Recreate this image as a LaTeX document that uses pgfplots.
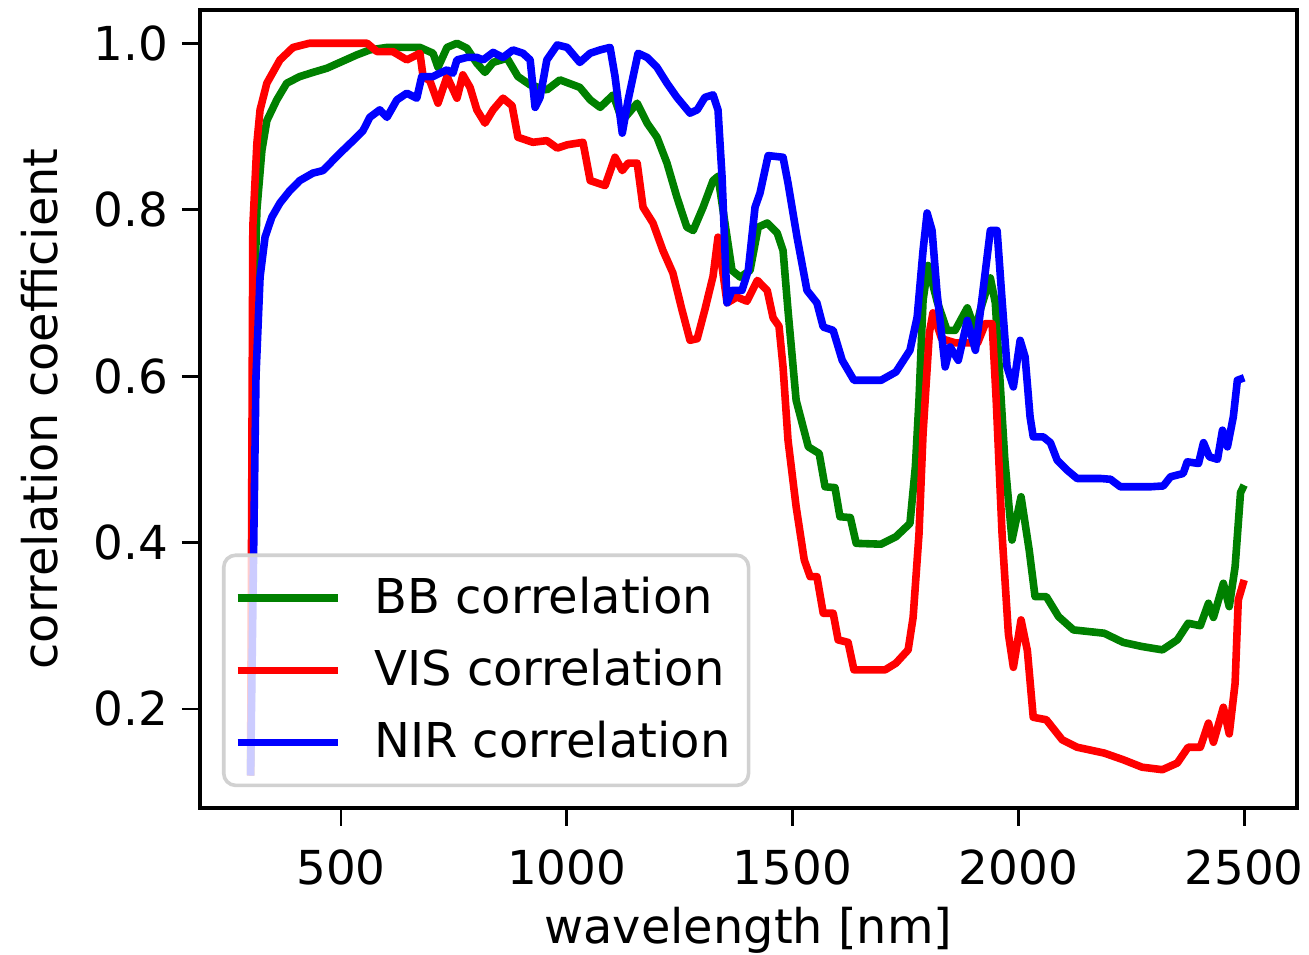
\documentclass[border=0pt]{standalone}
\usepackage{fontspec}
\setmainfont{DejaVu Sans}
\usepackage{pgfplots}
\pgfplotsset{compat=1.18}
\usetikzlibrary{calc}

\definecolor{mplgreen}{rgb}{0,0.5,0}

\begin{document}
\begin{tikzpicture}
\begin{axis}[
  scale only axis,
  width=274.25pt, height=199.5pt,
  xmin=188, xmax=2617, ymin=0.081, ymax=1.04,
  xtick={500,1000,1500,2000,2500},
  ytick={0.2,0.4,0.6,0.8,1.0},
  axis line style={line width=0.9pt},
  tick align=outside, tick pos=left,
  major tick length=4.5pt,
  every tick/.style={black, line width=0.7pt},
  /pgf/number format/assume math mode=true,
  xticklabel style={/pgf/number format/1000 sep={}, yshift=-2.5pt, inner xsep=0pt},
  yticklabel style={/pgf/number format/.cd, fixed, fixed zerofill, precision=1},
  every tick label/.append style={font=\fontsize{11.7}{14}\selectfont},
  label style={font=\fontsize{11.95}{14.3}\selectfont},
  xlabel={wavelength [nm]},
  ylabel={correlation coefficient},
  xlabel style={at={($(rel axis cs:0.5,0)+(0,-33.9pt)$)}, anchor=base, inner sep=0pt},
  ylabel style={at={($(rel axis cs:0,0.5)+(-35.5pt,0)$)}, anchor=base, inner sep=0pt},
  legend cell align=left,
  legend image code/.code={\draw[#1] (0pt,0pt) -- (25pt,0pt);},
  legend style={at={(0.02,0.026)}, anchor=south west,
    font=\fontsize{12}{14.4}\selectfont,
    draw=black!18, line width=0.9pt, rounded corners=3pt,
    fill=white, fill opacity=0.8, draw opacity=1, text opacity=1,
    inner xsep=2.5pt, inner ysep=2.45pt,
    nodes={inner xsep=2pt, inner ysep=3pt},
    row sep=1.4pt,
    /tikz/every odd column/.append style={column sep=6.25pt},
    /tikz/every even column/.append style={inner xsep=3pt}},
  every axis plot/.append style={line width=1.9pt, line join=round},
]
\addplot[mplgreen] coordinates {
(300,0.12) (309,0.70) (314,0.80) (325,0.871) (336,0.907) (358,0.932) (380,0.952)
(409,0.96) (438,0.965) (469,0.97) (498,0.977) (535,0.986) (564,0.992) (602,0.995)
(675,0.995) (704,0.988) (715,0.971) (735,0.995) (757,1.0) (779,0.994) (801,0.976)
(819,0.965) (837,0.977) (868,0.982) (892,0.96) (919,0.95) (956,0.944) (985,0.956)
(1029,0.947) (1052,0.932) (1074,0.923) (1103,0.938) (1123,0.907) (1156,0.928)
(1178,0.904) (1200,0.887) (1222,0.856) (1244,0.815) (1266,0.779) (1280,0.775)
(1302,0.803) (1324,0.835) (1335,0.84) (1366,0.727) (1384,0.719) (1406,0.727)
(1424,0.779) (1444,0.784) (1466,0.772) (1479,0.751) (1490,0.679) (1508,0.571)
(1535,0.515) (1559,0.507) (1572,0.467) (1594,0.466) (1605,0.431) (1628,0.43)
(1641,0.399) (1696,0.398) (1729,0.407) (1760,0.423) (1772,0.491) (1780,0.571)
(1789,0.691) (1800,0.733) (1820,0.69) (1842,0.655) (1860,0.655) (1887,0.682)
(1905,0.655) (1916,0.68) (1938,0.718) (1949,0.688) (1970,0.5) (1986,0.403)
(2006,0.455) (2024,0.391) (2037,0.335) (2062,0.335) (2089,0.311) (2122,0.295)
(2190,0.291) (2232,0.28) (2274,0.275) (2319,0.271) (2352,0.283) (2376,0.303)
(2403,0.3) (2421,0.327) (2432,0.31) (2454,0.351) (2467,0.323) (2480,0.371)
(2492,0.46) (2500,0.469)
};
\addlegendentry{BB correlation}
\addplot[red] coordinates {
(300,0.12) (305,0.78) (314,0.88) (321,0.92) (336,0.952) (365,0.98) (394,0.995)
(430,1.0) (558,1.0) (580,0.99) (615,0.99) (646,0.98) (675,0.988) (682,0.96)
(697,0.955) (715,0.928) (735,0.96) (757,0.934) (770,0.962) (786,0.947) (801,0.92)
(819,0.904) (837,0.92) (859,0.934) (879,0.925) (892,0.887) (925,0.881) (956,0.883)
(979,0.874) (1001,0.878) (1036,0.881) (1052,0.835) (1085,0.829) (1107,0.863)
(1123,0.847) (1136,0.856) (1156,0.856) (1169,0.803) (1191,0.784) (1213,0.751)
(1235,0.724) (1255,0.68) (1273,0.643) (1289,0.645) (1306,0.68) (1324,0.72)
(1335,0.767) (1355,0.688) (1377,0.695) (1399,0.69) (1422,0.715) (1444,0.703)
(1457,0.67) (1470,0.66) (1479,0.611) (1490,0.523) (1508,0.443) (1526,0.379)
(1539,0.359) (1554,0.359) (1568,0.315) (1590,0.315) (1601,0.283) (1623,0.28)
(1636,0.247) (1705,0.247) (1729,0.255) (1756,0.271) (1767,0.31) (1780,0.41)
(1789,0.531) (1803,0.652) (1811,0.676) (1830,0.645) (1860,0.64) (1890,0.64)
(1910,0.64) (1927,0.663) (1942,0.663) (1951,0.571) (1964,0.41) (1978,0.29)
(1989,0.25) (2006,0.307) (2020,0.27) (2033,0.19) (2062,0.187) (2097,0.163)
(2130,0.154) (2190,0.147) (2232,0.139) (2274,0.13) (2319,0.127) (2352,0.135)
(2376,0.154) (2403,0.154) (2421,0.183) (2432,0.16) (2454,0.202) (2467,0.17)
(2480,0.231) (2487,0.331) (2500,0.355)
};
\addlegendentry{VIS correlation}
\addplot[blue] coordinates {
(300,0.12) (312,0.60) (321,0.719) (332,0.767) (347,0.791) (365,0.808) (387,0.823)
(409,0.835) (438,0.844) (460,0.847) (482,0.859) (504,0.871) (527,0.883) (549,0.895)
(564,0.911) (586,0.92) (602,0.911) (624,0.932) (646,0.94) (668,0.934) (679,0.96)
(704,0.96) (719,0.964) (735,0.968) (748,0.964) (757,0.98) (779,0.983) (801,0.983)
(815,0.98) (837,0.989) (859,0.983) (881,0.992) (903,0.988) (919,0.98) (930,0.923)
(941,0.935) (956,0.98) (979,0.998) (1001,0.995) (1029,0.977) (1052,0.988)
(1074,0.992) (1096,0.995) (1107,0.96) (1123,0.892) (1136,0.932) (1147,0.96)
(1158,0.988) (1178,0.983) (1200,0.971) (1222,0.952) (1244,0.935) (1273,0.916)
(1289,0.92) (1306,0.935) (1324,0.938) (1335,0.92) (1344,0.839) (1355,0.688)
(1366,0.703) (1388,0.703) (1402,0.727) (1417,0.803) (1428,0.82) (1446,0.865)
(1479,0.863) (1490,0.832) (1510,0.767) (1532,0.703) (1554,0.688) (1568,0.659)
(1590,0.655) (1610,0.619) (1636,0.595) (1696,0.595) (1729,0.605) (1760,0.631)
(1776,0.671) (1789,0.751) (1798,0.796) (1809,0.775) (1820,0.70) (1838,0.611)
(1849,0.635) (1867,0.619) (1887,0.667) (1905,0.631) (1920,0.695) (1938,0.775)
(1953,0.775) (1964,0.691) (1975,0.611) (1989,0.587) (2004,0.643) (2015,0.623)
(2026,0.551) (2033,0.527) (2055,0.527) (2071,0.52) (2086,0.499) (2108,0.487)
(2130,0.477) (2181,0.477) (2204,0.476) (2226,0.467) (2292,0.467) (2321,0.468)
(2337,0.479) (2365,0.483) (2374,0.497) (2399,0.495) (2410,0.52) (2423,0.503)
(2441,0.5) (2452,0.535) (2463,0.515) (2476,0.551) (2485,0.595) (2500,0.598)
};
\addlegendentry{NIR correlation}
\coordinate (sw) at (rel axis cs:0,0);
\coordinate (ne) at (rel axis cs:1,1);
\end{axis}
\path (sw) ++(-50pt,-36.75pt) rectangle ($(ne)+(3pt,2.5pt)$);
\end{tikzpicture}
\end{document}
